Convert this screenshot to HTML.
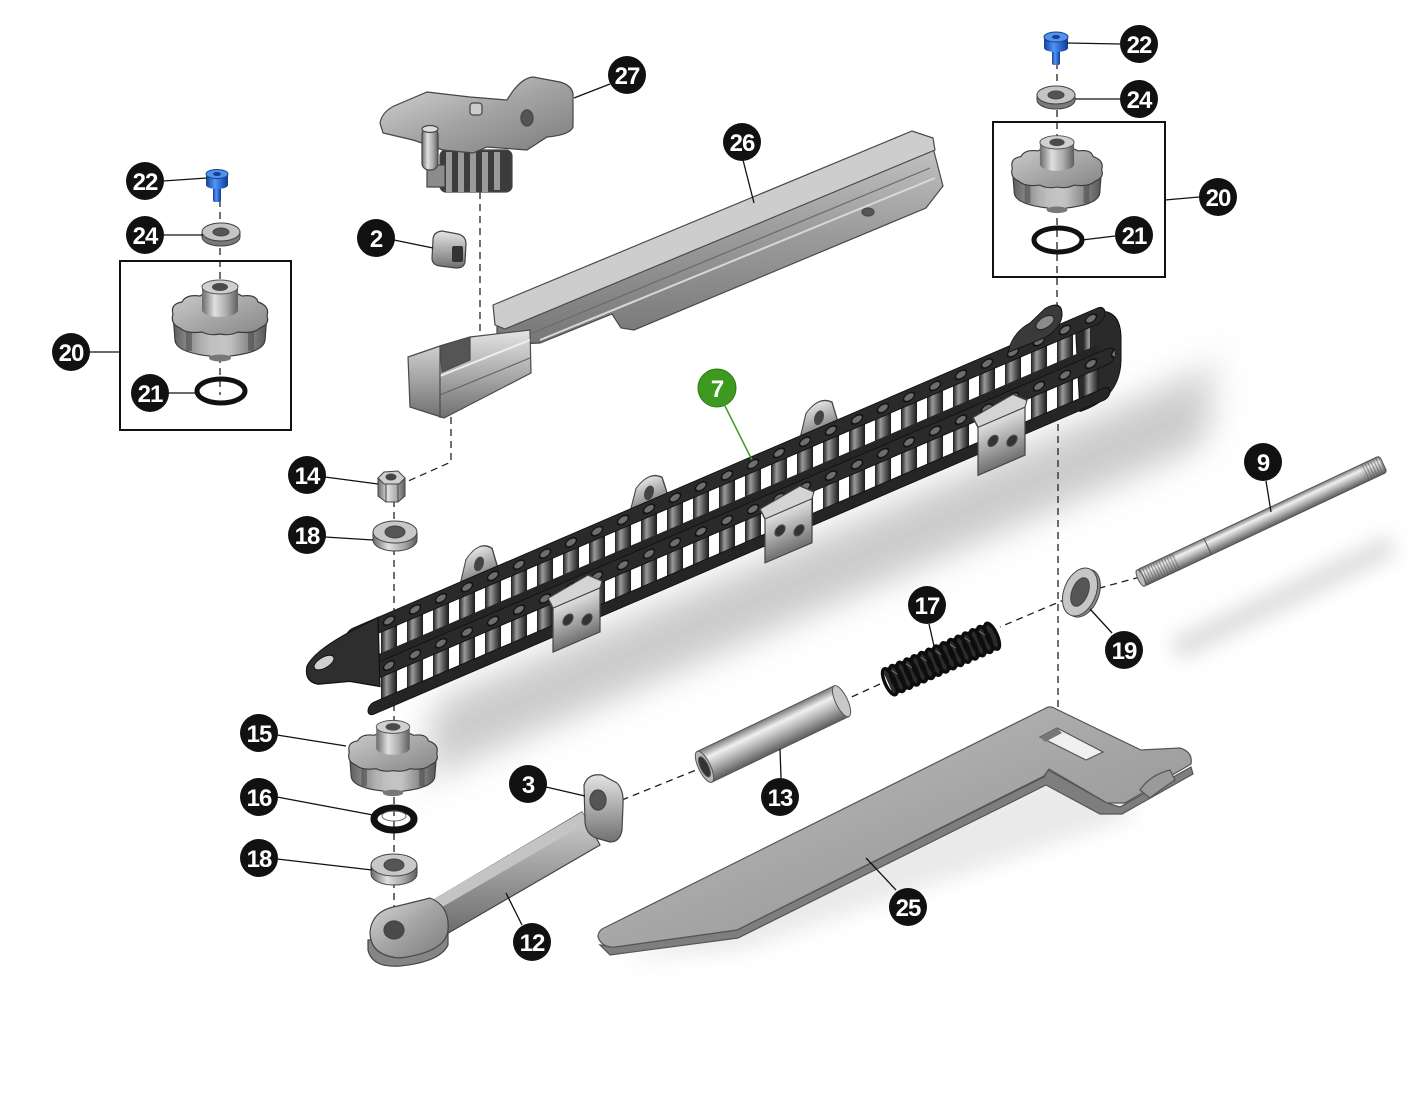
<!DOCTYPE html>
<html><head><meta charset="utf-8"><style>
html,body{margin:0;padding:0;background:#fff;}
svg{display:block;}
.lbl{font-family:"Liberation Sans",Arial,sans-serif;font-weight:bold;font-size:24px;fill:#fff;letter-spacing:-1px;}
</style></head><body>
<svg width="1408" height="1117" viewBox="0 0 1408 1117" xmlns="http://www.w3.org/2000/svg">
<defs>
<linearGradient id="gMetal" x1="0" y1="0" x2="0" y2="1"><stop offset="0" stop-color="#e4e4e4"/><stop offset=".5" stop-color="#ababab"/><stop offset="1" stop-color="#707070"/></linearGradient>
<linearGradient id="gMetalD" x1="0" y1="0" x2="1" y2="1"><stop offset="0" stop-color="#d8d8d8"/><stop offset=".5" stop-color="#a4a4a4"/><stop offset="1" stop-color="#7c7c7c"/></linearGradient>
<linearGradient id="gArm" x1="0" y1="0" x2="0" y2="1"><stop offset="0" stop-color="#cfcfcf"/><stop offset=".5" stop-color="#9c9c9c"/><stop offset="1" stop-color="#6c6c6c"/></linearGradient>
<linearGradient id="gRail" x1="0" y1="0" x2="0" y2="1"><stop offset="0" stop-color="#c4c4c4"/><stop offset=".45" stop-color="#9c9c9c"/><stop offset="1" stop-color="#767676"/></linearGradient>
<linearGradient id="gCyl" x1="0" y1="0" x2="0" y2="1"><stop offset="0" stop-color="#7a7a7a"/><stop offset=".28" stop-color="#f0f0f0"/><stop offset=".6" stop-color="#b2b2b2"/><stop offset="1" stop-color="#5c5c5c"/></linearGradient>
<linearGradient id="gRoll" x1="0" y1="0" x2="1" y2="0"><stop offset="0" stop-color="#1e1e1e"/><stop offset=".35" stop-color="#9a9a9a"/><stop offset=".65" stop-color="#5a5a5a"/><stop offset="1" stop-color="#1a1a1a"/></linearGradient>
<linearGradient id="gHub" x1="0" y1="0" x2="1" y2="0"><stop offset="0" stop-color="#6a6a6a"/><stop offset=".35" stop-color="#e0e0e0"/><stop offset=".7" stop-color="#a8a8a8"/><stop offset="1" stop-color="#5e5e5e"/></linearGradient>
<linearGradient id="gKnobSide" x1="0" y1="0" x2="1" y2="0"><stop offset="0" stop-color="#5d5d5d"/><stop offset=".3" stop-color="#b0b0b0"/><stop offset=".55" stop-color="#cfcfcf"/><stop offset="1" stop-color="#555"/></linearGradient>
<linearGradient id="gKnobTop" x1="0" y1="0" x2="1" y2="1"><stop offset="0" stop-color="#cbcbcb"/><stop offset="1" stop-color="#868686"/></linearGradient>
<linearGradient id="gBlue" x1="0" y1="0" x2="1" y2="0"><stop offset="0" stop-color="#17409a"/><stop offset=".4" stop-color="#4f96f4"/><stop offset=".7" stop-color="#2a66cf"/><stop offset="1" stop-color="#153c8a"/></linearGradient>
<linearGradient id="gPlate" x1="0" y1="0" x2="1" y2="1"><stop offset="0" stop-color="#c4c4c4"/><stop offset=".5" stop-color="#a6a6a6"/><stop offset="1" stop-color="#8c8c8c"/></linearGradient>
<pattern id="rollers" patternUnits="userSpaceOnUse" x="350" y="0" width="26" height="200"><rect x="5" y="0" width="16" height="200" fill="url(#gRoll)"/></pattern>
<pattern id="pins" patternUnits="userSpaceOnUse" x="350" y="-10" width="26" height="45"><ellipse cx="13" cy="10" rx="5.5" ry="4" fill="#6e6e6e" stroke="#111" stroke-width="1.5"/></pattern>
<pattern id="thread" patternUnits="userSpaceOnUse" x="0" y="0" width="3" height="40"><rect x="0" y="0" width="1.3" height="40" fill="#555" opacity=".55"/></pattern>
<filter id="blur" x="-30%" y="-60%" width="160%" height="220%"><feGaussianBlur stdDeviation="18"/></filter>
<filter id="blur2" x="-30%" y="-60%" width="160%" height="220%"><feGaussianBlur stdDeviation="10"/></filter>
<g id="knob">
 <path d="M-47,0 L-45,26 Q-44,40 0,43 Q44,40 45,26 L47,0 Z" fill="url(#gKnobSide)" stroke="#3a3a3a" stroke-width="1.2"/>
 <path d="M-31,14 L-31,37 M31,14 L31,37" stroke="#444" stroke-width="6" opacity=".5"/>
 <rect x="-11" y="16" width="22" height="27" rx="4" fill="#c0c0c0" opacity=".7"/>
 <path d="M-47,0 Q-50,-10 -38,-12 Q-34,-20 -20,-18 Q-10,-24 0,-20 Q12,-24 22,-18 Q36,-20 38,-12 Q50,-8 47,2 Q50,10 40,14 Q34,20 18,18 Q10,22 0,20 Q-10,22 -18,18 Q-34,20 -40,14 Q-50,10 -47,0 Z" fill="url(#gKnobTop)" stroke="#3a3a3a" stroke-width="1.2"/>
 <rect x="-18" y="-27" width="36" height="23" fill="url(#gHub)"/>
 <ellipse cx="0" cy="-4" rx="18" ry="7" fill="url(#gHub)"/>
 <ellipse cx="0" cy="-27" rx="18" ry="7" fill="#d0d0d0" stroke="#555"/>
 <ellipse cx="0" cy="-27" rx="8" ry="4" fill="#4a4a4a"/>
 <ellipse cx="0" cy="44" rx="11" ry="3.5" fill="#777"/>
</g>
</defs>

<!-- soft shadows -->
<g transform="matrix(1,-0.43,0,1,0,787.9)" filter="url(#blur)"><rect x="430" y="100" width="780" height="75" fill="#858585" opacity=".42"/></g>
<polygon points="1170,640 1390,535 1395,555 1180,660" fill="#999" opacity=".35" filter="url(#blur2)"/>
<polygon points="620,960 1060,770 1140,815 740,950" fill="#aaa" opacity=".25" filter="url(#blur2)"/>

<!-- dashed lines -->
<g fill="none" stroke="#222" stroke-width="1.3" stroke-dasharray="7 5">
 <line x1="220" y1="200" x2="220" y2="395"/>
 <line x1="1057" y1="62" x2="1057" y2="330"/>
 <line x1="1058" y1="400" x2="1058" y2="740"/>
 <line x1="480" y1="192" x2="480" y2="350"/>
 <polyline points="451,417 451,462 406,482"/>
 <line x1="394" y1="500" x2="394" y2="725"/>
 <line x1="394" y1="785" x2="394" y2="935"/>
 <line x1="1140" y1="577" x2="1085" y2="592"/>
 <line x1="1078" y1="594" x2="1000" y2="627"/>
 <line x1="880" y1="684" x2="845" y2="700"/>
 <line x1="706" y1="766" x2="622" y2="800"/>
</g>

<!-- Part 27 bracket -->
<g stroke="#444" stroke-width="1.2">
 <rect x="440" y="150" width="72" height="42" rx="6" fill="#3c3c3c"/>
 <g stroke="none" fill="#9a9a9a"><rect x="446" y="152" width="6" height="40"/><rect x="458" y="152" width="6" height="40"/><rect x="470" y="152" width="6" height="40"/><rect x="482" y="152" width="6" height="40"/><rect x="494" y="152" width="6" height="38"/></g>
 <rect x="427" y="165" width="18" height="22" fill="#8c8c8c"/>
 <path d="M380,123 Q382,112 394,106 L427,92 L470,97 L507,100 Q520,78 533,77 L560,82 Q574,86 573,97 L573,127 Q570,135 547,137 L527,150 L487,147 L473,153 L443,150 L413,140 L383,133 Z" fill="url(#gMetalD)"/>
 <rect x="422" y="128" width="16" height="42" rx="7" fill="url(#gHub)"/>
 <ellipse cx="430" cy="129" rx="8" ry="3.5" fill="#ddd"/>
 <ellipse cx="527" cy="118" rx="6" ry="8" fill="#555"/>
 <rect x="470" y="103" width="12" height="12" rx="3" fill="#ccc"/>
</g>

<!-- Part 2 block -->
<path d="M433,240 Q433,232 442,231 L458,234 Q466,236 466,244 L465,262 Q464,268 456,268 L440,266 Q432,265 432,258 Z" fill="url(#gMetal)" stroke="#444" stroke-width="1.2"/>
<rect x="452" y="246" width="11" height="16" rx="2" fill="#333"/>

<!-- Part 26 rail -->
<g stroke="#4a4a4a" stroke-width="1.2">
 <polygon points="497,318 931,140 943,186 926,208 634,330 621,328 612,314 540,343 497,345" fill="url(#gRail)"/>
 <polyline points="525,336 930,168" fill="none" stroke="#6a6a6a"/>
 <polyline points="540,340 935,178" fill="none" stroke="#d8d8d8" stroke-width="2"/>
 <polygon points="493,305 912,131 933,138 935,150 505,329 495,325" fill="#cdcdcd"/>
 <ellipse cx="868" cy="212" rx="6" ry="4" fill="#555"/>
 <polygon points="408,357 440,346 470,337 530,330 531,373 444,418 410,407" fill="url(#gMetal)"/>
 <polygon points="440,346 470,337 470,360 442,372" fill="#555"/>
 <polyline points="440,376 530,340" fill="none" stroke="#eee" stroke-width="2"/>
 <polyline points="440,395 530,358" fill="none" stroke="#666"/>
 <line x1="440" y1="346" x2="440" y2="418"/>
</g>

<!-- Left box contents -->
<rect x="120" y="261" width="171" height="169" fill="none" stroke="#111" stroke-width="2"/>
<g>
 <rect x="213" y="184" width="8" height="18" rx="2" fill="url(#gBlue)"/>
 <rect x="206" y="174" width="22" height="11" fill="url(#gBlue)"/>
 <ellipse cx="217" cy="185" rx="11" ry="4" fill="url(#gBlue)"/>
 <ellipse cx="217" cy="174" rx="11" ry="4.5" fill="#4f92ef" stroke="#1b3f8a"/>
 <ellipse cx="217" cy="174" rx="4" ry="2" fill="#1b3f8a"/>
</g>
<g stroke="#444" stroke-width="1">
 <path d="M202,232 L202,237 A19,9 0 0 0 240,237 L240,232 Z" fill="#7a7a7a"/>
 <ellipse cx="221" cy="232" rx="19" ry="9" fill="#c4c4c4"/>
 <ellipse cx="221" cy="232" rx="8" ry="4" fill="#555"/>
</g>
<use href="#knob" transform="translate(220,314)"/>
<ellipse cx="221" cy="391" rx="24" ry="12" fill="none" stroke="#111" stroke-width="5"/>

<!-- Right box contents -->
<rect x="993" y="122" width="172" height="155" fill="none" stroke="#111" stroke-width="2"/>
<g>
 <rect x="1052" y="47" width="8" height="18" rx="2" fill="url(#gBlue)"/>
 <rect x="1044" y="37" width="24" height="11" fill="url(#gBlue)"/>
 <ellipse cx="1056" cy="48" rx="12" ry="4" fill="url(#gBlue)"/>
 <ellipse cx="1056" cy="37" rx="12" ry="5" fill="#4f92ef" stroke="#1b3f8a"/>
 <ellipse cx="1056" cy="37" rx="4" ry="2" fill="#1b3f8a"/>
</g>
<g stroke="#444" stroke-width="1">
 <path d="M1037,95 L1037,100 A19,9 0 0 0 1075,100 L1075,95 Z" fill="#7a7a7a"/>
 <ellipse cx="1056" cy="95" rx="19" ry="9" fill="#c4c4c4"/>
 <ellipse cx="1056" cy="95" rx="8" ry="4" fill="#555"/>
</g>
<use href="#knob" transform="translate(1057,168) scale(.95)"/>
<ellipse cx="1058" cy="240" rx="24" ry="12" fill="none" stroke="#111" stroke-width="5"/>

<!-- Nut 14 & washer 18 -->
<g stroke="#444" stroke-width="1">
 <polygon points="378,478 378,496 386,502 398,502 405,496 405,478" fill="url(#gHub)"/>
 <line x1="386" y1="484" x2="386" y2="502"/><line x1="398" y1="484" x2="398" y2="502"/>
 <polygon points="378,478 384,472 398,471 405,478 399,484 384,484" fill="#cfcfcf"/>
 <ellipse cx="391" cy="477" rx="5" ry="3" fill="#444"/>
 <path d="M373,532 L373,540 A22,11 0 0 0 417,540 L417,532 Z" fill="url(#gHub)"/>
 <ellipse cx="395" cy="532" rx="22" ry="11" fill="#c8c8c8"/>
 <ellipse cx="395" cy="532" rx="10" ry="6" fill="#555"/>
</g>

<!-- Chain 7 -->
<g transform="matrix(1,-0.43,0,1,0,787.9)">
 <g fill="url(#gMetal)" stroke="#444" stroke-width="1.2">
  <path d="M458,2 L466,-28 Q479,-42 492,-28 L500,2 Z"/>
  <path d="M628,2 L636,-26 Q649,-38 662,-26 L670,2 Z"/>
  <path d="M798,2 L806,-28 Q819,-40 832,-28 L840,2 Z"/>
 </g>
 <g fill="#444"><ellipse cx="479" cy="-18" rx="5" ry="7"/><ellipse cx="649" cy="-16" rx="5" ry="7"/><ellipse cx="819" cy="-18" rx="5" ry="7"/></g>
 <path d="M1075,-7 Q1122,-9 1121,35 L1121,55 Q1120,92 1080,88 Z" fill="#2a2a2a" stroke="#111"/>
 <!-- upper strand -->
 <rect x="350" y="4" width="740" height="32" fill="url(#rollers)"/>
 <rect x="345" y="29" width="755" height="11" rx="5" fill="#252525"/>
 <rect x="345" y="-8" width="760" height="16" rx="8" fill="#2a2a2a" stroke="#111"/>
 <rect x="345" y="-10" width="760" height="20" fill="url(#pins)"/>
 <!-- lower strand -->
 <rect x="372" y="50" width="733" height="30" fill="url(#rollers)"/>
 <rect x="368" y="75" width="742" height="12" rx="6" fill="#252525" stroke="#111"/>
 <rect x="362" y="37" width="753" height="16" rx="8" fill="#2a2a2a" stroke="#111"/>
 <rect x="362" y="35" width="753" height="20" fill="url(#pins)"/>
 <!-- left end plate -->
 <path d="M378,-8 L345,-5 Q314,-1 307,10 Q304,24 318,33 L350,44 L380,62 Z" fill="#2e2e2e" stroke="#111" stroke-width="1.2"/>
 <ellipse cx="324" cy="14" rx="10" ry="6" fill="#d0d0d0" stroke="#111"/>
 <!-- right end tab -->
 <path d="M1008,-2 Q1012,-20 1030,-22 L1045,-30 Q1063,-32 1062,-15 Q1060,-3 1045,-1 Z" fill="#3a3a3a" stroke="#111"/>
 <ellipse cx="1045" cy="-16" rx="9" ry="6" fill="#8a8a8a" stroke="#222"/>
 <!-- lower brackets -->
 <g stroke="#444" stroke-width="1.2">
  <rect x="553" y="56" width="47" height="46" fill="url(#gMetal)"/>
  <path d="M548,46 L588,40 L602,52 L600,58 L553,58 Z" fill="#d4d4d4"/>
  <circle cx="568" cy="76" r="5" fill="#333"/><circle cx="587" cy="84" r="5" fill="#333"/>
  <rect x="765" y="58" width="47" height="46" fill="url(#gMetal)"/>
  <path d="M760,48 L800,42 L814,54 L812,60 L765,60 Z" fill="#d4d4d4"/>
  <circle cx="780" cy="78" r="5" fill="#333"/><circle cx="799" cy="86" r="5" fill="#333"/>
  <rect x="978" y="58" width="47" height="50" fill="url(#gMetal)"/>
  <path d="M973,48 L1013,42 L1027,54 L1025,60 L978,60 Z" fill="#d4d4d4"/>
  <circle cx="993" cy="80" r="5" fill="#333"/><circle cx="1012" cy="88" r="5" fill="#333"/>
 </g>
</g>

<!-- Knob 15, O-ring 16, washer 18 -->
<use href="#knob" transform="translate(393,752) scale(.93)"/>
<ellipse cx="394" cy="819" rx="20" ry="11" fill="none" stroke="#111" stroke-width="7"/>
<ellipse cx="394" cy="816" rx="12" ry="5" fill="none" stroke="#666" stroke-width="1"/>
<g stroke="#444" stroke-width="1">
 <path d="M371,865 L371,874 A23,11 0 0 0 417,874 L417,865 Z" fill="url(#gHub)"/>
 <ellipse cx="394" cy="865" rx="23" ry="11" fill="#c8c8c8"/>
 <ellipse cx="394" cy="865" rx="10" ry="6" fill="#555"/>
</g>

<!-- Part 12 arm + lug 3 -->
<g stroke="#444" stroke-width="1.2">
 <polygon points="425,905 582,812 600,845 445,935" fill="url(#gArm)"/>
 <polygon points="432,900 582,812 588,822 437,910" fill="#c4c4c4" stroke="none"/>
 <path d="M368,940 L368,950 Q372,968 400,966 Q440,962 448,945 L448,932 Z" fill="#858585"/>
 <path d="M370,932 Q372,910 398,906 L430,898 Q450,906 448,930 Q446,952 400,958 Q370,956 370,932 Z" fill="url(#gMetalD)"/>
 <ellipse cx="394" cy="930" rx="10" ry="9" fill="#4a4a4a"/>
 <path d="M584,785 Q588,773 602,775 L617,783 Q624,790 623,805 L622,830 Q620,842 610,842 L596,838 Q586,834 585,822 Z" fill="url(#gMetal)"/>
 <ellipse cx="598" cy="800" rx="8" ry="10" fill="#555"/>
</g>

<!-- Tube 13 -->
<g transform="translate(773,734) rotate(-25.6)" stroke="#555" stroke-width="1">
 <rect x="-76" y="-17" width="152" height="34" fill="url(#gCyl)"/>
 <ellipse cx="76" cy="0" rx="6" ry="17" fill="#c8c8c8"/>
 <ellipse cx="-76" cy="0" rx="6" ry="17" fill="#b8b8b8"/>
 <ellipse cx="-76" cy="0" rx="4" ry="11" fill="#333"/>
</g>

<!-- Spring 17 -->
<g transform="translate(941,659) rotate(-24)">
 <rect x="-58" y="-14" width="118" height="28" rx="6" fill="#2b2b2b"/>
 <g fill="none" stroke="#0d0d0d" stroke-width="3.5">
  <ellipse cx="-56" cy="0" rx="5" ry="14"/><ellipse cx="-48" cy="0" rx="5" ry="14"/><ellipse cx="-40" cy="0" rx="5" ry="14"/><ellipse cx="-32" cy="0" rx="5" ry="14"/><ellipse cx="-24" cy="0" rx="5" ry="14"/><ellipse cx="-16" cy="0" rx="5" ry="14"/><ellipse cx="-8" cy="0" rx="5" ry="14"/><ellipse cx="0" cy="0" rx="5" ry="14"/><ellipse cx="8" cy="0" rx="5" ry="14"/><ellipse cx="16" cy="0" rx="5" ry="14"/><ellipse cx="24" cy="0" rx="5" ry="14"/><ellipse cx="32" cy="0" rx="5" ry="14"/><ellipse cx="40" cy="0" rx="5" ry="14"/><ellipse cx="48" cy="0" rx="5" ry="14"/><ellipse cx="56" cy="0" rx="5" ry="14"/>
 </g>
 <g fill="none" stroke="#8a8a8a" stroke-width="1" opacity=".7">
  <path d="M-50,-10 L-46,-4 M-34,-10 L-30,-4 M-18,-10 L-14,-4 M-2,-10 L2,-4 M14,-10 L18,-4 M30,-10 L34,-4 M46,-10 L50,-4"/>
 </g>
</g>

<!-- Washer 19 -->
<g transform="translate(1080,592) rotate(22)" stroke="#444" stroke-width="1">
 <ellipse cx="3" cy="0" rx="16" ry="25" fill="#8a8a8a"/>
 <ellipse cx="0" cy="0" rx="16" ry="25" fill="#c6c6c6"/>
 <ellipse cx="0" cy="0" rx="8" ry="15" fill="#555"/>
</g>

<!-- Rod 9 -->
<g transform="translate(1262,521) rotate(-25.2)" stroke="#555" stroke-width="1">
 <rect x="-134" y="-9" width="268" height="18" rx="3" fill="url(#gCyl)"/>
 <rect x="-134" y="-9" width="40" height="18" fill="url(#thread)" stroke="none"/>
 <rect x="112" y="-9" width="22" height="18" fill="url(#thread)" stroke="none"/>
 <line x1="-60" y1="-9" x2="-60" y2="9"/>
 <ellipse cx="-134" cy="0" rx="3" ry="9" fill="#bbb"/>
</g>

<!-- Part 25 plate -->
<g stroke="#555" stroke-width="1.2">
 <path d="M600,945 L610,955 L738,938 L1046,785 L1100,814 L1122,814 L1193,774 L1191,767 L1120,807 L1107,803 L1048,770 L1044,777 L737,930 L615,947 Z" fill="#7e7e7e"/>
 <path d="M598,937 Q598,930 606,927 L1044,709 Q1050,705 1056,709 L1141,750 L1180,748 Q1193,752 1191,764 L1125,803 L1107,803 L1049,769 L1044,776 L737,930 L615,947 Q602,948 598,937 Z" fill="url(#gPlate)"/>
 <polygon points="1040,737 1057,728 1103,752 1086,760" fill="#f0f0f0"/>
 <polygon points="1040,737 1057,728 1062,733 1045,742" fill="#777" stroke="none"/>
 <path d="M1140,790 Q1150,775 1170,770 L1175,780 Q1160,790 1150,798 Z" fill="#9a9a9a"/>
</g>

<!-- leader lines -->
<g stroke="#111" stroke-width="1.3" fill="none">
 <line x1="610" y1="84" x2="574" y2="98"/>
 <line x1="743" y1="160" x2="754" y2="203"/>
 <line x1="394" y1="240" x2="433" y2="248"/>
 <line x1="163" y1="181" x2="207" y2="178"/>
 <line x1="163" y1="235" x2="203" y2="235"/>
 <line x1="90" y1="352" x2="120" y2="352"/>
 <line x1="168" y1="393" x2="197" y2="393"/>
 <line x1="1120" y1="44" x2="1067" y2="43"/>
 <line x1="1120" y1="99" x2="1075" y2="99"/>
 <line x1="1199" y1="197" x2="1165" y2="200"/>
 <line x1="1115" y1="236" x2="1082" y2="240"/>
 <line x1="325" y1="477" x2="378" y2="484"/>
 <line x1="325" y1="537" x2="373" y2="540"/>
 <line x1="1266" y1="481" x2="1271" y2="512"/>
 <line x1="929" y1="624" x2="934" y2="646"/>
 <line x1="1112" y1="633" x2="1090" y2="609"/>
 <line x1="277" y1="735" x2="346" y2="746"/>
 <line x1="277" y1="797" x2="373" y2="815"/>
 <line x1="277" y1="859" x2="372" y2="870"/>
 <line x1="546" y1="787" x2="585" y2="796"/>
 <line x1="781" y1="778" x2="780" y2="749"/>
 <line x1="522" y1="925" x2="506" y2="893"/>
 <line x1="896" y1="890" x2="866" y2="858"/>
</g>
<line x1="725" y1="406" x2="752" y2="460" stroke="#3e9a1e" stroke-width="1.5"/>

<!-- labels -->
<g fill="#111">
 <circle cx="627" cy="75" r="19"/><circle cx="742" cy="142" r="19"/><circle cx="376" cy="238" r="19"/>
 <circle cx="145" cy="181" r="19"/><circle cx="145" cy="235" r="19"/><circle cx="71" cy="352" r="19"/><circle cx="150" cy="393" r="19"/>
 <circle cx="1139" cy="44" r="19"/><circle cx="1139" cy="99" r="19"/><circle cx="1218" cy="197" r="19"/><circle cx="1134" cy="235" r="19"/>
 <circle cx="307" cy="475" r="19"/><circle cx="307" cy="535" r="19"/><circle cx="1263" cy="462" r="19"/>
 <circle cx="927" cy="605" r="19"/><circle cx="1124" cy="650" r="19"/>
 <circle cx="259" cy="733" r="19"/><circle cx="259" cy="797" r="19"/><circle cx="259" cy="858" r="19"/>
 <circle cx="528" cy="784" r="19"/><circle cx="780" cy="797" r="19"/><circle cx="532" cy="942" r="19"/><circle cx="908" cy="907" r="19"/>
</g>
<circle cx="717" cy="388" r="19" fill="#3e9a1e" stroke="#2e7a12" stroke-width="1"/>
<g class="lbl" text-anchor="middle">
 <text x="627" y="84" class="lbl">27</text>
 <text x="742" y="151" class="lbl">26</text>
 <text x="376" y="247" class="lbl">2</text>
 <text x="145" y="190" class="lbl">22</text>
 <text x="145" y="244" class="lbl">24</text>
 <text x="71" y="361" class="lbl">20</text>
 <text x="150" y="402" class="lbl">21</text>
 <text x="1139" y="53" class="lbl">22</text>
 <text x="1139" y="108" class="lbl">24</text>
 <text x="1218" y="206" class="lbl">20</text>
 <text x="1134" y="244" class="lbl">21</text>
 <text x="717" y="397" class="lbl">7</text>
 <text x="307" y="484" class="lbl">14</text>
 <text x="307" y="544" class="lbl">18</text>
 <text x="1263" y="471" class="lbl">9</text>
 <text x="927" y="614" class="lbl">17</text>
 <text x="1124" y="659" class="lbl">19</text>
 <text x="259" y="742" class="lbl">15</text>
 <text x="259" y="806" class="lbl">16</text>
 <text x="259" y="867" class="lbl">18</text>
 <text x="528" y="793" class="lbl">3</text>
 <text x="780" y="806" class="lbl">13</text>
 <text x="532" y="951" class="lbl">12</text>
 <text x="908" y="916" class="lbl">25</text>
</g>
</svg>
</body></html>
